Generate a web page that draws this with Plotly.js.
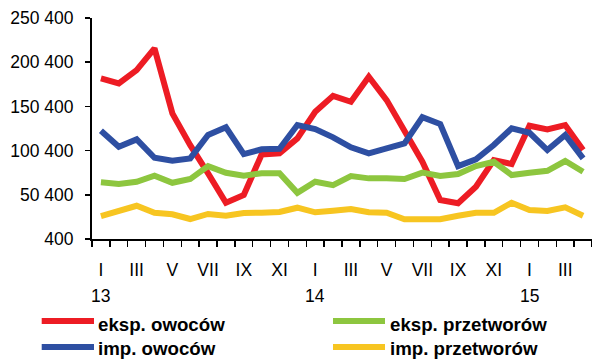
<!DOCTYPE html>
<html>
<head>
<meta charset="utf-8">
<script src="https://cdn.plot.ly/plotly-3.0.1.min.js"></script>
<style>html,body{margin:0;padding:0;background:#fff;}#chart{width:592px;height:361px;}</style>
</head>
<body>
<div id="chart"></div>
<script>
// Data (months Jan 2013 – Apr 2015)
var months = ["I","II","III","IV","V","VI","VII","VIII","IX","X","XI","XII",
              "I","II","III","IV","V","VI","VII","VIII","IX","X","XI","XII",
              "I","II","III","IV"];
var yearLabels = ["13","14","15"];
var yearIndex = [0, 12, 24];

var eksOwocow = [182000,176400,191400,216000,142500,106600,74700,41400,50100,96000,97300,114200,
                 144300,162400,155600,183900,157500,121700,87800,44500,40800,59500,89700,85200,
                 128500,124400,129300,101000];
var impOwocow = [122800,104700,113100,92300,88900,91600,118000,126700,96500,101800,102500,129300,
                 124700,115400,104100,97300,102900,108600,138300,130400,82900,90500,106700,125500,
                 120600,101000,118000,91600];
var eksPrzetworow = [64500,62600,65200,72000,64000,68200,82900,75300,72000,74700,74700,52700,
                     65200,61400,71600,69000,69000,68200,75500,71600,73900,82900,87800,72700,
                     75300,77600,88600,76500];
var impPrzetworow = [26400,32100,38000,30100,28300,23000,28700,26700,29800,30100,30900,35800,
                     30600,32400,34300,30600,30100,22700,22700,22700,26700,30100,30100,41400,
                     33200,32100,36200,26700];
var seriesNames = ["eksp. owoców","eksp. przetworów","imp. owoców","imp. przetworów"];
var yTickVals = [400,50400,100400,150400,200400,250400];
var yTickText = ["400","50 400","100 400","150 400","200 400","250 400"];

var colors = ["#ED1C24","#8DC63F","#2E4FA2","#F7C521"];
var seriesData = [eksOwocow, eksPrzetworow, impOwocow, impPrzetworow];
var xIdx = months.map(function(_, i){ return i; });

var traces = seriesData.map(function(d, k){
  return {x: xIdx, y: d, type: "scatter", mode: "lines", name: seriesNames[k],
          line: {color: colors[k], width: 6}, showlegend: false, hoverinfo: "skip"};
});

var labVals = [], labText = [];
for (var i = 0; i < months.length; i += 2) { labVals.push(i); labText.push(months[i]); }
var bounds = [];
for (var b = 0; b <= months.length; b++) bounds.push(b - 0.5);

var PL = 92, PW = 500, PT = 18, PH = 221;
function px(x){ return (x - PL) / PW; }
function py(y){ return (PT + PH - y) / PH; }

var shapes = [], annotations = [];
// year labels
yearLabels.forEach(function(t, k){
  annotations.push({x: yearIndex[k], xref: "x", y: py(296), yref: "paper", text: t,
    showarrow: false, xanchor: "center", yanchor: "middle",
    font: {family: "Liberation Sans, Arial", size: 17.5, color: "#000"}});
});
// legend (2 columns)
var legPos = [[41.7, 94, 96, 321, 324], [333, 385, 387.5, 321, 324],
              [41.7, 94, 96, 347, 348], [333, 385, 387.5, 347, 348]];
var legOrder = [0, 1, 2, 3];
legOrder.forEach(function(k, j){
  var p = legPos[j];
  shapes.push({type: "line", xref: "paper", yref: "paper", x0: px(p[0]), x1: px(p[1]),
    y0: py(p[3]), y1: py(p[3]), line: {color: colors[k], width: 6}});
  annotations.push({x: px(p[2]), xref: "paper", y: py(p[4]), yref: "paper", text: "<b>" + seriesNames[k] + "</b>",
    showarrow: false, xanchor: "left", yanchor: "middle",
    font: {family: "Liberation Sans, Arial", size: 18.7, color: "#000"}});
});

var layout = {
  width: 592, height: 361,
  margin: {l: PL, r: 0, t: PT, b: 361 - PT - PH, pad: 0},
  paper_bgcolor: "#fff", plot_bgcolor: "#fff",
  showlegend: false,
  font: {family: "Liberation Sans, Arial", size: 17.5, color: "#000"},
  xaxis: {range: [-0.5, months.length - 0.5], tickvals: labVals, ticktext: labText,
          ticks: "", showgrid: false, zeroline: false, showline: true, linecolor: "#000", linewidth: 2,
          ticklabelstandoff: 14,
          tickfont: {family: "Liberation Sans, Arial", size: 17.5, color: "#000"},
          minor: {tickvals: bounds, ticks: "outside", ticklen: 6, tickwidth: 1.5, tickcolor: "#000", showgrid: false},
          fixedrange: true},
  yaxis: {range: [400, 250400], tickvals: yTickVals, ticktext: yTickText,
          ticks: "outside", ticklen: 5, tickwidth: 1.5, tickcolor: "#000",
          showgrid: false, zeroline: false, showline: true, linecolor: "#000", linewidth: 2,
          ticklabelstandoff: 8,
          tickfont: {family: "Liberation Sans, Arial", size: 17.5, color: "#000"},
          fixedrange: true},
  shapes: shapes,
  annotations: annotations
};

Plotly.newPlot("chart", traces, layout, {staticPlot: true, displayModeBar: false});
</script>
</body>
</html>
